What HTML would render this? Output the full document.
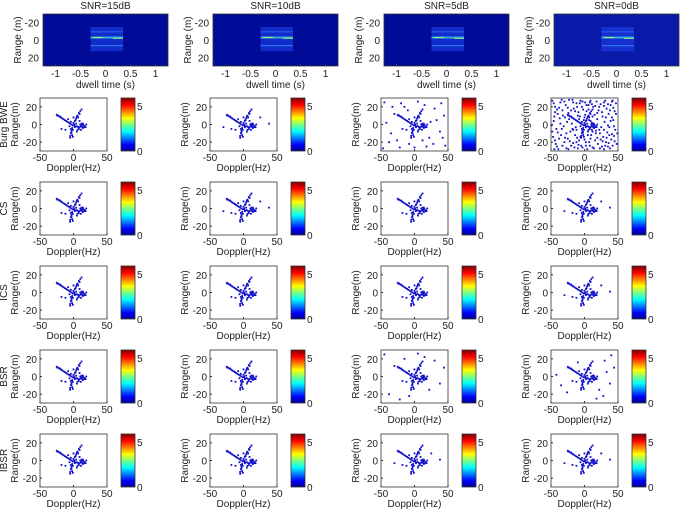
<!DOCTYPE html>
<html><head><meta charset="utf-8"><style>
body{margin:0;background:#fff}
svg{display:block;font-family:"Liberation Sans",sans-serif}
</style></head><body>
<svg id="fig" width="685" height="513" xmlns="http://www.w3.org/2000/svg">
<defs>
<linearGradient id="jet" x1="0" y1="1" x2="0" y2="0">
<stop offset="0" stop-color="#00008f"/><stop offset="0.12" stop-color="#0000ff"/>
<stop offset="0.37" stop-color="#00ffff"/><stop offset="0.5" stop-color="#80ff80"/>
<stop offset="0.62" stop-color="#ffff00"/><stop offset="0.87" stop-color="#ff0000"/>
<stop offset="1" stop-color="#800000"/></linearGradient>
</defs>
</svg>
<script>
const snrTitles=["SNR=15dB","SNR=10dB","SNR=5dB","SNR=0dB"];
const methods=["Burg BWE","CS","ICS","BSR","IBSR"];
const dwellTicks=[-1,-0.5,0,0.5,1];
const rangeTicks=[-20,0,20];
const dopplerTicks=[-50,0,50];
const cbarTicks=[0,5];
const plane=[[-25,11],[-23,10],[-21,9],[-19,8],[-17,7],[-15,6],[-13,5],[-11,4],[-9,3],[-7,2],[-5,1],[-3,0],[-1,-1],[1,-1],[3,-2],[5,-2],[7,-3],[9,-3],[11,-2],[13,-3],[15,-1],[17,-2],[19,0],[2,4],[4,7],[6,10],[8,13],[10,15],[12,17],[0,2],[3,5],[7,8],[-2,-4],[-3,-7],[-4,-10],[-5,-13],[-5,-15],[-3,-9],[-1,-6],[10,0],[12,1],[14,-4],[16,-3],[8,-5],[11,-6],[-18,-5],[-12,-6],[5,-8],[0,8],[-8,6],[-6,-2],[4,1],[9,4],[-4,3],[14,1],[6,-6],[-2,-12],[2,-3],[-24,10],[-20,9],[-1,-14],[-4,-5],[13,-1],[18,-3],[1,0],[5,9],[9,12]];
const noiseLight=[[38,1],[-30,-3],[25,8]];
const noise5=[[-45,25],[-38,-20],[-30,12],[-22,-26],[-15,20],[-8,-22],[5,26],[15,22],[22,-15],[30,18],[38,-8],[44,10],[-42,2],[-35,-10],[-26,-18],[18,-25],[28,-22],[40,24],[-10,16],[33,5],[-47,-27],[46,-24],[12,-18],[-20,24],[0,-26],[24,3],[-33,20],[42,-15]];
const noise0=[[-48,27],[-44,20],[-40,12],[-46,4],[-42,-5],[-47,-14],[-43,-22],[-39,-28],[-36,25],[-33,16],[-37,7],[-31,-2],[-35,-12],[-30,-20],[-27,-27],[-28,22],[-24,13],[-26,3],[-21,-8],[-25,-16],[-20,-24],[-18,28],[-16,18],[-19,1],[-14,-12],[-17,-21],[-12,24],[-9,14],[-13,-3],[-8,-18],[-10,-27],[-6,27],[-4,20],[-7,9],[-2,-9],[-5,-24],[1,25],[3,15],[-1,5],[2,-20],[4,-28],[6,22],[9,27],[7,5],[10,-12],[8,-24],[13,20],[15,11],[12,-8],[16,-18],[14,-27],[18,26],[21,16],[19,6],[22,-6],[20,-22],[24,23],[27,9],[25,-3],[28,-14],[26,-25],[31,27],[33,18],[30,3],[34,-9],[32,-20],[36,12],[39,22],[37,-3],[40,-17],[38,-27],[42,27],[45,15],[43,5],[46,-6],[44,-13],[48,-22],[47,24],[-45,-28],[-23,28],[11,2],[-38,-16],[35,-25],[-29,8],[17,-10],[-11,-15],[29,25]];
const noise0b=[[-46,24],[-41,17],[-45,9],[-49,-1],[-40,-9],[-44,-18],[-41,-25],[-34,28],[-38,19],[-32,10],[-34,-5],[-29,-15],[-33,-24],[-30,26],[-25,19],[-23,6],[-27,-10],[-22,-19],[-24,-28],[-17,25],[-14,15],[-17,-6],[-12,-20],[-15,-26],[-11,20],[-7,24],[-10,10],[-6,-14],[-9,-23],[-3,26],[-2,17],[1,11],[0,-17],[-3,-26],[3,22],[6,17],[5,-12],[7,-20],[2,-24],[11,23],[12,9],[9,-16],[12,-26],[16,21],[19,13],[17,-7],[19,-15],[23,-27],[22,20],[26,14],[23,-10],[27,-19],[29,-28],[29,21],[32,8],[29,-6],[33,-15],[31,-24],[35,23],[38,16],[35,-1],[37,-12],[36,-21],[41,26],[43,19],[41,8],[44,-2],[41,-11],[45,-19],[42,-24],[47,12],[49,-10],[-48,-8],[-36,1],[-20,16],[8,25],[24,-17],[39,4],[-44,14]];
const panelNoise=[[[],noiseLight,noise5,noise0.concat(noise0b)],[[],noiseLight,[],noiseLight],[[],[],[],noiseLight],[[],[],noise5.slice(0,12),noise5.slice(8,20)],[[],[],noiseLight,noiseLight]];
const NS="http://www.w3.org/2000/svg";
const svg=document.getElementById('fig');
const colOff=[0,170,341,511];
function mk(tag,attrs,parent){const e=document.createElementNS(NS,tag);for(const k in attrs)e.setAttribute(k,attrs[k]);(parent||svg).appendChild(e);return e;}
function txt(x,y,s,size,anchor,rot,parent){const t=mk('text',{x:x,y:y,'font-size':size,'text-anchor':anchor||'middle',fill:'#222'},parent);if(rot)t.setAttribute('transform',`rotate(-90 ${x} ${y})`);t.textContent=s;return t;}
// top row
for(let c=0;c<4;c++){
  const ox=colOff[c],L=43+ox,R=168+ox,T=14,B=66;
  const xs=v=>L+(v+1.25)/2.5*(R-L), ys=v=>T+(v+30)/60*(B-T);
  const g=mk('g',{});
  
  
  mk('rect',{x:L,y:T,width:R-L,height:B-T,fill:c==3?'#0a1aa8':'#000c98',stroke:'#333','stroke-width':0.8},g);
  mk('rect',{x:xs(-0.3),y:ys(-15),width:xs(0.35)-xs(-0.3),height:ys(13)-ys(-15),fill:'#1a3ae0',opacity:0.7},g);
  mk('rect',{x:xs(-0.3),y:ys(-4),width:xs(0.35)-xs(-0.3),height:2,fill:'#30b0e0'},g);
  mk('rect',{x:xs(-0.25),y:ys(-3.5),width:10,height:1,fill:'#a0f080'},g);
  mk('rect',{x:xs(0.15),y:ys(-2.5),width:10,height:1,fill:'#a0f080'},g);
  mk('rect',{x:xs(-0.3),y:ys(6),width:xs(0.35)-xs(-0.3),height:1,fill:'#3080f0'},g);
  mk('rect',{x:xs(-0.3),y:ys(-10),width:xs(0.35)-xs(-0.3),height:1,fill:'#3060f0'},g);
  txt((L+R)/2,9,snrTitles[c],10,'middle',0,g);
  dwellTicks.forEach(v=>{mk('line',{x1:xs(v),x2:xs(v),y1:B,y2:B-2,stroke:'#333'},g);txt(xs(v),77,String(v),10,'middle',0,g);});
  rangeTicks.forEach(v=>{txt(L-4,ys(v)+4,String(v),10,'end',0,g);});
  txt((L+R)/2,88,'dwell time (s)',10,'middle',0,g);
  txt(L-22,(T+B)/2,'Range (m)',10,'middle',true,g);
}
// grid rows
for(let r=0;r<5;r++){
  for(let c=0;c<4;c++){
    const ox=colOff[c],L=40+ox,R=107+ox,T=98+r*84,B=T+53;
    const xs=v=>L+(v+50)/100*(R-L), ys=v=>B-(v+30)/60*(B-T);
    const g=mk('g',{});
    
    
    mk('rect',{x:L,y:T,width:R-L,height:B-T,fill:'#fff',stroke:'#333','stroke-width':0.8},g);
    const pts=plane.concat(panelNoise[r][c]);
    pts.forEach(p=>{const d=mk('rect',{x:xs(p[0])-0.9,y:ys(p[1])-0.9,width:1.8,height:1.8,fill:'#1010c8'},g);
      
      });
    dopplerTicks.forEach(v=>{mk('line',{x1:xs(v),x2:xs(v),y1:B,y2:B-2,stroke:'#333'},g);txt(xs(v),B+10,String(v),10,'middle',0,g);});
    rangeTicks.forEach(v=>{mk('line',{x1:L,x2:L+2,y1:ys(v),y2:ys(v),stroke:'#333'},g);txt(L-3,ys(v)+4,String(v),10,'end',0,g);});
    txt((L+R)/2,B+20,'Doppler(Hz)',10,'middle',0,g);
    txt(L-22,(T+B)/2,'Range(m)',10,'middle',true,g);
    if(c==0)txt(L-33,(T+B)/2,methods[r],10,'middle',true,g);
    const cx=121+ox,cw=14;
    const cb=mk('rect',{x:cx,y:T,width:cw,height:B-T,fill:'url(#jet)',stroke:'#333','stroke-width':0.8},g);
    
    
    cbarTicks.forEach(v=>{const y=B-v/5.9*(B-T);txt(cx+cw+2,y+4,String(v),10,'start',0,g);});
  }
}
</script>
</body></html>
